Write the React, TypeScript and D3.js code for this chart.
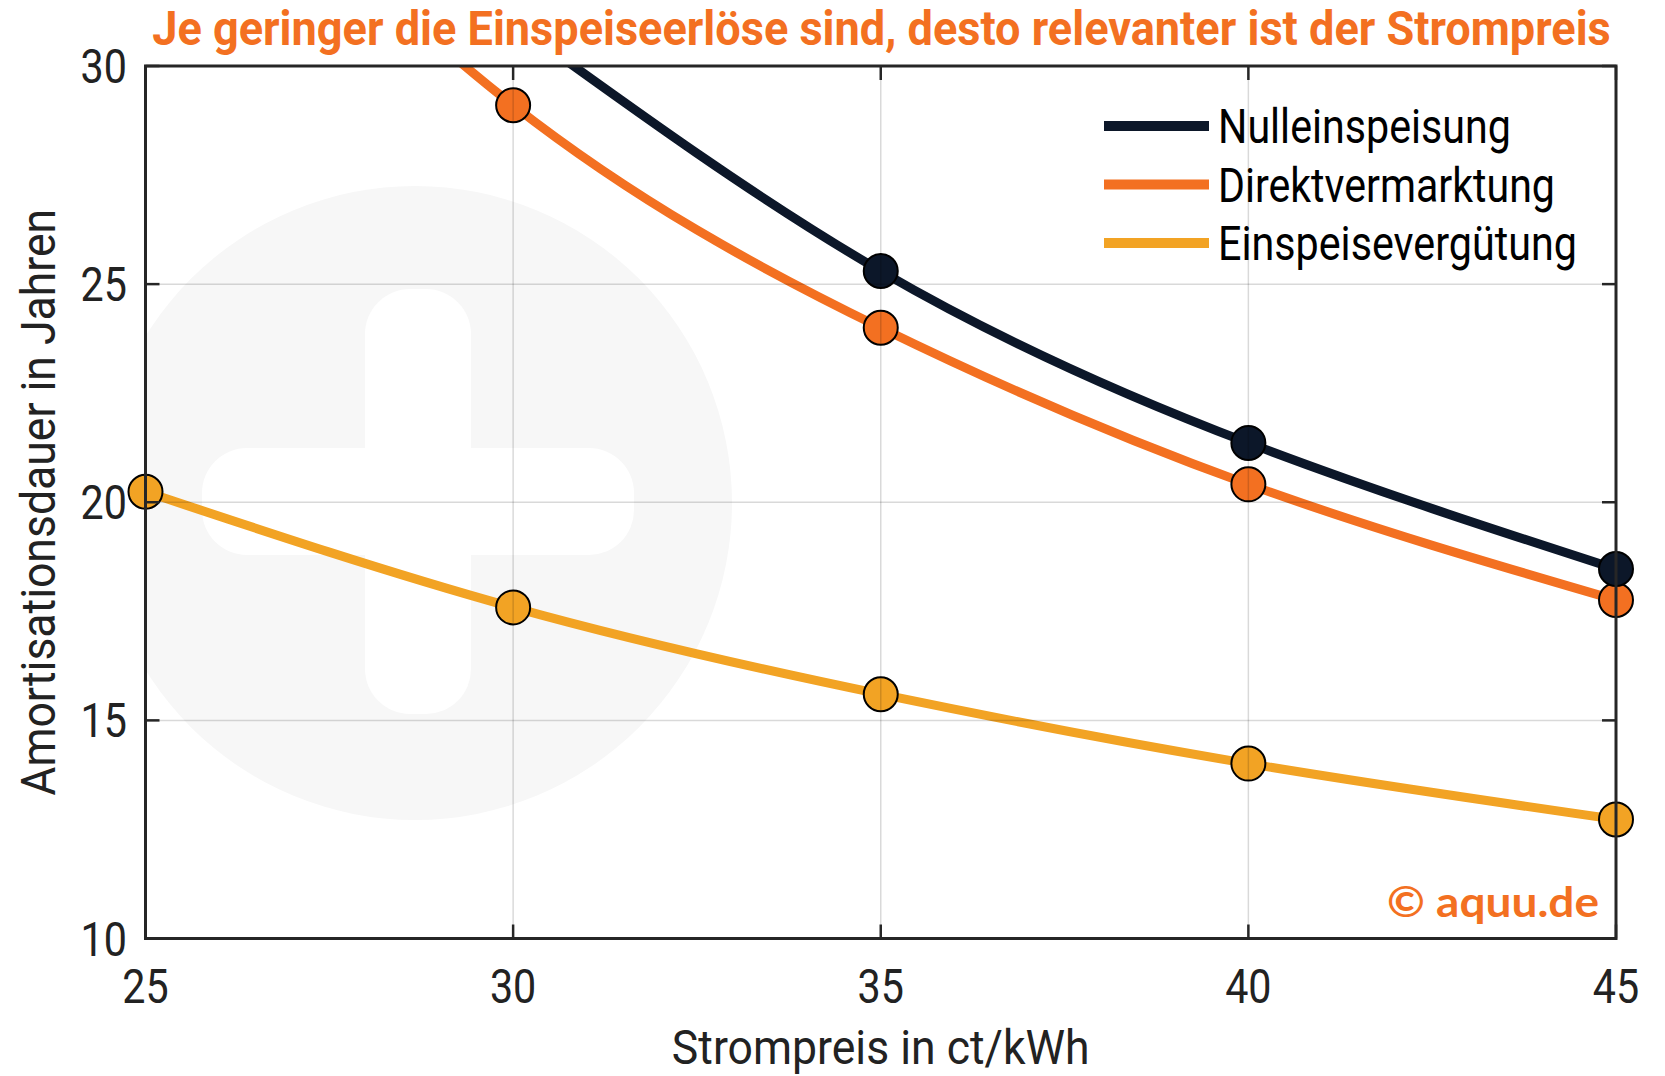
import React, { useEffect, useRef } from 'react'
import * as d3 from 'd3'

const strompreis = [25, 30, 35, 40, 45]
// values above 30 lie outside the axis and get clipped like in the original
const nulleinspeisung = [null, 31.0, 25.3, 21.36, 18.47]
const direktvermarktung = [37.0, 29.1, 24.0, 20.41, 17.76]
const einspeiseverguetung = [20.24, 17.59, 15.6, 14.01, 12.73]

const seriesNames = ['Nulleinspeisung', 'Direktvermarktung', 'Einspeisevergütung']
const seriesColors = ['#0c1729', '#f37021', '#f2a324']
const xTicks = [25, 30, 35, 40, 45]
const yTicks = [10, 15, 20, 25, 30]

const title = 'Je geringer die Einspeiseerlöse sind, desto relevanter ist der Strompreis'

const App = () => {
  const chartRef = useRef(null)

  useEffect(() => {
    document.body.style.margin = '0'
    const root = d3.select(chartRef.current)
    root.selectAll('*').remove()

    const width = 1665
    const height = 1076
    const left = 145.5
    const right = 1616
    const top = 66
    const bottom = 938.5
    const font = 'Roboto, sans-serif'

    const x = d3.scaleLinear().domain([25, 45]).range([left, right])
    const y = d3.scaleLinear().domain([10, 30]).range([bottom, top])

    const svg = root
      .attr('width', width)
      .attr('height', height)
      .attr('viewBox', `0 0 ${width} ${height}`)
      .style('display', 'block')
      .style('background', '#fff')

    // squeeze a text horizontally to a measured width (condensed look)
    const fit = (sel, tx, ty, target, extra = '') => {
      const w = sel.node().getComputedTextLength() || target
      sel.attr('transform', `translate(${tx},${ty}) ${extra} scale(${target / w},1)`)
      return sel
    }

    svg
      .append('defs')
      .append('clipPath')
      .attr('id', 'plot-clip')
      .append('rect')
      .attr('x', left)
      .attr('y', top)
      .attr('width', right - left)
      .attr('height', bottom - top)

    const plot = svg.append('g').attr('clip-path', 'url(#plot-clip)')

    // watermark
    plot.append('circle').attr('cx', 415).attr('cy', 503).attr('r', 317).attr('fill', '#f7f7f7')
    plot
      .append('rect')
      .attr('x', 365)
      .attr('y', 289)
      .attr('width', 106)
      .attr('height', 425)
      .attr('rx', 45)
      .attr('fill', '#fff')
    plot
      .append('rect')
      .attr('x', 202)
      .attr('y', 448)
      .attr('width', 432)
      .attr('height', 107)
      .attr('rx', 45)
      .attr('fill', '#fff')

    const allSeries = [nulleinspeisung, direktvermarktung, einspeiseverguetung]

    const line = d3
      .line()
      .x((d) => x(d[0]))
      .y((d) => y(d[1]))
      .curve(d3.curveNatural)

    allSeries.forEach((values, i) => {
      const pts = strompreis.map((p, j) => [p, values[j]]).filter((d) => d[1] != null)
      plot
        .append('path')
        .datum(pts)
        .attr('d', line)
        .attr('fill', 'none')
        .attr('stroke', seriesColors[i])
        .attr('stroke-width', 9)
    })

    // markers (not clipped, only points inside the y range)
    ;[2, 1, 0].forEach((i) => {
      const pts = strompreis
        .map((p, j) => [p, allSeries[i][j]])
        .filter((d) => d[1] != null && d[1] <= 30)
      svg
        .selectAll(null)
        .data(pts)
        .enter()
        .append('circle')
        .attr('cx', (d) => x(d[0]))
        .attr('cy', (d) => y(d[1]))
        .attr('r', 17)
        .attr('fill', seriesColors[i])
        .attr('stroke', '#000')
        .attr('stroke-width', 2)
    })

    // grid on top
    const grid = svg.append('g').attr('stroke', '#000').attr('stroke-opacity', 0.15).attr('stroke-width', 1.5)
    xTicks.slice(1, -1).forEach((t) => {
      grid.append('line').attr('x1', x(t)).attr('x2', x(t)).attr('y1', top).attr('y2', bottom)
    })
    yTicks.slice(1, -1).forEach((t) => {
      grid.append('line').attr('x1', left).attr('x2', right).attr('y1', y(t)).attr('y2', y(t))
    })

    // axes box with inward ticks
    const axes = svg.append('g').attr('stroke', '#262626').attr('stroke-width', 2.5)
    axes
      .append('rect')
      .attr('x', left)
      .attr('y', top)
      .attr('width', right - left)
      .attr('height', bottom - top)
      .attr('fill', 'none')
      .attr('stroke-width', 3)
    const tl = 14
    xTicks.forEach((t) => {
      axes.append('line').attr('x1', x(t)).attr('x2', x(t)).attr('y1', bottom).attr('y2', bottom - tl)
      axes.append('line').attr('x1', x(t)).attr('x2', x(t)).attr('y1', top).attr('y2', top + tl)
    })
    yTicks.forEach((t) => {
      axes.append('line').attr('x1', left).attr('x2', left + tl).attr('y1', y(t)).attr('y2', y(t))
      axes.append('line').attr('x1', right).attr('x2', right - tl).attr('y1', y(t)).attr('y2', y(t))
    })

    // tick labels
    xTicks.forEach((t) => {
      svg
        .append('text')
        .attr('transform', `translate(${x(t)},1003) scale(0.86,1)`)
        .attr('text-anchor', 'middle')
        .attr('font-family', font)
        .attr('font-size', 48)
        .attr('fill', '#222')
        .text(t)
    })
    yTicks.forEach((t) => {
      svg
        .append('text')
        .attr('transform', `translate(127,${y(t) + 17}) scale(0.86,1)`)
        .attr('text-anchor', 'end')
        .attr('font-family', font)
        .attr('font-size', 48)
        .attr('fill', '#222')
        .text(t)
    })

    // axis titles
    const xLabel = svg
      .append('text')
      .attr('text-anchor', 'middle')
      .attr('font-family', font)
      .attr('font-size', 48)
      .attr('fill', '#222')
      .text('Strompreis in ct/kWh')
    fit(xLabel, (left + right) / 2, 1064, 418)

    const yLabel = svg
      .append('text')
      .attr('text-anchor', 'middle')
      .attr('font-family', font)
      .attr('font-size', 48)
      .attr('fill', '#222')
      .text('Amortisationsdauer in Jahren')
    fit(yLabel, 55, (top + bottom) / 2, 587, 'rotate(-90)')

    // title
    const titleText = svg
      .append('text')
      .attr('text-anchor', 'middle')
      .attr('font-family', font)
      .attr('font-weight', 700)
      .attr('font-size', 48)
      .attr('fill', '#f37021')
      .text(title)
    fit(titleText, 881.5, 44.5, 1459)

    // legend
    const legendY = [126, 184.5, 243]
    const legendWidths = [293, 337, 359]
    seriesNames.forEach((name, i) => {
      svg
        .append('line')
        .attr('x1', 1104)
        .attr('x2', 1209)
        .attr('y1', legendY[i])
        .attr('y2', legendY[i])
        .attr('stroke', seriesColors[i])
        .attr('stroke-width', 10)
      const t = svg
        .append('text')
        .attr('font-family', font)
        .attr('font-size', 48)
        .attr('fill', '#000')
        .text(name)
      fit(t, 1218, legendY[i] + 17, legendWidths[i])
    })

    // copyright
    const copy = svg
      .append('text')
      .attr('text-anchor', 'end')
      .attr('font-family', 'Lato, sans-serif')
      .attr('font-weight', 700)
      .attr('font-size', 42)
      .attr('fill', '#f37021')
      .text('© aquu.de')
    fit(copy, 1599, 917, 212)
  }, [])

  return <svg ref={chartRef} />
}

export default App
